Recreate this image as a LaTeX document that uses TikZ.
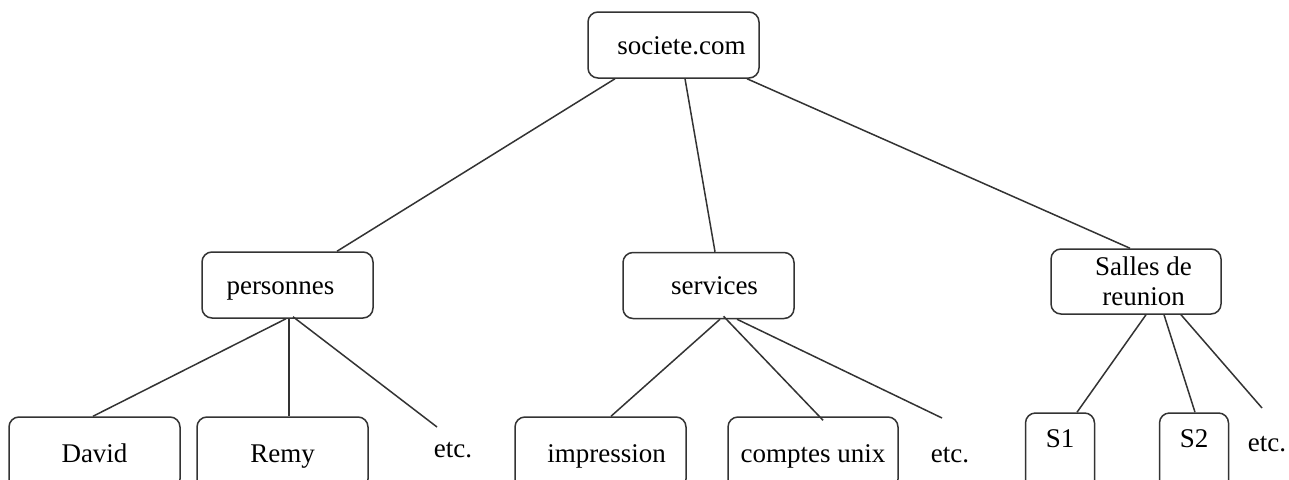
\documentclass[tikz,border=0pt]{standalone}
\usepackage{fontspec}
\setmainfont{Liberation Serif}
\usetikzlibrary{calc}
\begin{document}
\begin{tikzpicture}[x=1pt,y=-1pt,
  rbox/.style={draw=black!80, line width=1.5pt, rounded corners=10pt, inner sep=0pt,
    minimum width=171pt, minimum height=66pt, font=\fontsize{27}{30}\selectfont},
  box/.style={rbox, text height=18pt, text depth=0pt},
  leaf/.style={box, minimum height=72pt},
  sbox/.style={box, minimum width=69pt, minimum height=90pt, text depth=40pt},
  etcnode/.style={inner sep=0pt, anchor=base, font=\fontsize{27}{30}\selectfont},
  edge/.style={draw=black!80, line width=1.5pt}]
\useasboundingbox (0,0) rectangle (1289,479);
\fill[white] (0,0) rectangle (1289,479);
\clip (0,0) rectangle (1289,479);

% nodes
\node[box] (soc) at (673.5,45) {\hspace*{16pt}societe.com};
\node[box] (pers) at (287.5,285) {personnes\hspace*{14pt}};
\node[box] (serv) at (708.5,285.5) {\hspace*{12pt}services};
\node[rbox, minimum width=170pt, minimum height=65pt, align=center] (salles) at (1136,281.5)
  {\hspace*{15pt}Salles de\\\hspace*{15pt}reunion};

\node[leaf] (david) at (94.5,453) {David};
\node[leaf] (remy) at (282.5,453) {Remy};
\node[leaf] (impr) at (600.5,453) {\hspace*{12pt}impression};
\node[leaf, minimum width=170pt] (comptes) at (813,453) {comptes unix};
\node[sbox] (s1) at (1060,458) {S1};
\node[sbox] (s2) at (1194,458) {S2};
\node[etcnode] (etc1) at (453,457) {etc.};
\node[etcnode] (etc2) at (950,462) {etc.};
\node[etcnode] (etc3) at (1267,451) {etc.};

% free ends above the etc. labels
\coordinate (e1) at (437,427);
\coordinate (e2) at (942,418);
\coordinate (e3) at (1262,408);

% connectors
\draw[edge] ($(soc.south)+(-58.5,0)$) -- ($(pers.north)+(49.5,0)$);
\draw[edge] ($(soc.south)+(11.5,0)$) -- ($(serv.north)+(6.5,0)$);
\draw[edge] ($(soc.south)+(73.5,0)$) -- ($(salles.north)+(-6,0)$);

\draw[edge] ($(pers.south)+(-1.5,0)$) -- ($(david.north)+(-1.5,0)$);
\draw[edge] ($(pers.south)+(1.5,0)$) -- ($(remy.north)+(6.5,0)$);
\draw[edge] ($(pers.south)+(5.5,-2)$) -- (e1);

\draw[edge] ($(serv.south)+(11.5,0)$) -- ($(impr.north)+(10.5,0)$);
\draw[edge] ($(serv.south)+(15,-3)$) -- ($(comptes.north)+(10,4)$);
\draw[edge] ($(serv.south)+(28.5,0)$) -- (e2);

\draw[edge] ($(salles.south)+(10,0)$) -- ($(s1.north)+(17,0)$);
\draw[edge] ($(salles.south)+(28,0)$) -- ($(s2.north)+(1,0)$);
\draw[edge] ($(salles.south)+(45,0)$) -- (e3);
\end{tikzpicture}
\end{document}
